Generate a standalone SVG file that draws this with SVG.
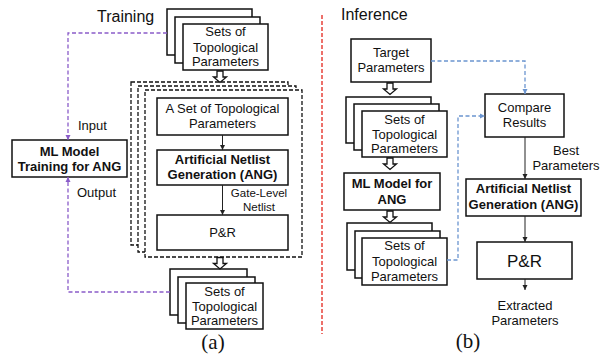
<svg xmlns="http://www.w3.org/2000/svg" width="606" height="354" viewBox="0 0 606 354">
<style>
text{font-family:"Liberation Sans",Arial,sans-serif;font-size:13px;fill:#111;text-anchor:middle}
.b{font-weight:bold}
.box{fill:#fff;stroke:#111;stroke-width:1.5}
.dbox{fill:#fff;stroke:#111;stroke-width:1.3;stroke-dasharray:4 2}
.ttl{font-size:16px;text-anchor:start}
.cap{font-family:"Liberation Serif","Times New Roman",serif;font-size:21px}
.conn{fill:none;stroke:#222;stroke-width:1}
.pur{fill:none;stroke:#8a5cc9;stroke-width:1.3;stroke-dasharray:4 2.5}
.blu{fill:none;stroke:#6b95d0;stroke-width:1.3;stroke-dasharray:4 2.5}
.red{fill:none;stroke:#e8413a;stroke-width:1.5;stroke-dasharray:4 2}
.hol{fill:#fff;stroke:#111;stroke-width:1.3}
</style>
<defs>
<marker id="ak" markerWidth="6" markerHeight="6" refX="5" refY="3" orient="auto" markerUnits="userSpaceOnUse"><path d="M0,0.5 L5,3 L0,5.5 Z" fill="#222"/></marker>
<marker id="ap" markerWidth="6" markerHeight="6" refX="5" refY="3" orient="auto" markerUnits="userSpaceOnUse"><path d="M0,0.5 L5,3 L0,5.5 Z" fill="#8a5cc9"/></marker>
<marker id="ab" markerWidth="6" markerHeight="6" refX="5" refY="3" orient="auto" markerUnits="userSpaceOnUse"><path d="M0,0.5 L5,3 L0,5.5 Z" fill="#6b95d0"/></marker>
<path id="hollow" d="M-3,0 H3 V6 H6.5 L0,11.5 L-6.5,6 H-3 Z"/>
</defs>

<text class="ttl" x="97" y="22">Training</text>
<text class="ttl" x="341" y="20">Inference</text>

<!-- (a) -->
<g id="a-sets-top">
<rect class="box" x="167" y="9" width="85" height="46"/>
<rect class="box" x="175" y="17" width="85" height="46"/>
<rect class="box" x="183" y="24" width="85" height="46"/>
<text x="225.5" y="36">Sets of</text>
<text x="225.5" y="52">Topological</text>
<text x="225.5" y="66">Parameters</text>
</g>

<g id="a-loop">
<rect class="dbox" x="131" y="82" width="157" height="163"/>
<rect class="dbox" x="138" y="86" width="158" height="166"/>
<rect class="dbox" x="145" y="90" width="157" height="167"/>
</g>

<g id="a-set">
<rect class="box" x="157" y="98" width="131" height="37"/>
<text x="222.5" y="113">A Set of Topological</text>
<text x="222.5" y="128">Parameters</text>
</g>

<g id="a-ang">
<rect class="box" x="157" y="150" width="131" height="35"/>
<text class="b" x="222.5" y="164">Artificial Netlist</text>
<text class="b" x="222.5" y="179">Generation (ANG)</text>
</g>

<g id="a-pr">
<rect class="box" x="157" y="215" width="131" height="35"/>
<text x="222.5" y="237">P&amp;R</text>
</g>

<g id="a-sets-bot">
<rect class="box" x="170" y="269" width="77" height="46"/>
<rect class="box" x="178" y="277" width="77" height="46"/>
<rect class="box" x="186" y="283" width="77" height="46"/>
<text x="224.5" y="296">Sets of</text>
<text x="224.5" y="311">Topological</text>
<text x="224.5" y="325">Parameters</text>
</g>

<g id="a-ml">
<rect class="box" x="12" y="140" width="115" height="37"/>
<text class="b" x="69.5" y="156">ML Model</text>
<text class="b" x="69.5" y="171">Training for ANG</text>
</g>

<text class="cap" x="213" y="349">(a)</text>

<!-- (b) -->
<g id="b-target">
<rect class="box" x="351" y="39" width="80" height="43"/>
<text x="391" y="57">Target</text>
<text x="391" y="72">Parameters</text>
</g>

<g id="b-sets-top">
<rect class="box" x="346" y="97" width="85" height="46"/>
<rect class="box" x="354" y="104" width="85" height="46"/>
<rect class="box" x="362" y="111" width="85" height="46"/>
<text x="404.5" y="124">Sets of</text>
<text x="404.5" y="139">Topological</text>
<text x="404.5" y="153">Parameters</text>
</g>

<g id="b-ml">
<rect class="box" x="344" y="173" width="96" height="37"/>
<text class="b" x="392" y="188">ML Model for</text>
<text class="b" x="392" y="204">ANG</text>
</g>

<g id="b-sets-bot">
<rect class="box" x="347" y="223" width="85" height="47"/>
<rect class="box" x="355" y="231" width="85" height="47"/>
<rect class="box" x="362" y="238" width="85" height="47"/>
<text x="404.5" y="250">Sets of</text>
<text x="404.5" y="266">Topological</text>
<text x="404.5" y="281">Parameters</text>
</g>

<g id="b-compare">
<rect class="box" x="485" y="94" width="79" height="43"/>
<text x="524.5" y="112">Compare</text>
<text x="524.5" y="127">Results</text>
</g>

<g id="b-ang">
<rect class="box" x="466" y="179" width="115" height="37"/>
<text class="b" x="523.5" y="193">Artificial Netlist</text>
<text class="b" x="523.5" y="209">Generation (ANG)</text>
</g>

<g id="b-pr">
<rect class="box" x="477" y="242" width="95" height="37"/>
<text x="524.5" y="267" style="font-size:17px">P&amp;R</text>
</g>

<text class="cap" x="468" y="348">(b)</text>

<g id="connectors">
<line class="red" x1="322" y1="15" x2="322" y2="334"/>
<!-- (a) -->
<use href="#hollow" class="hol" x="220" y="71"/>
<use href="#hollow" class="hol" x="220" y="257.5"/>
<line class="conn" x1="222.5" y1="135" x2="222.5" y2="150" marker-end="url(#ak)"/>
<line class="conn" x1="222.5" y1="185" x2="222.5" y2="215" marker-end="url(#ak)"/>
<path class="pur" d="M167,33 H68 V140" marker-end="url(#ap)"/>
<path class="pur" d="M170,292 H68 V177" marker-end="url(#ap)"/>
<text x="78" y="130" style="text-anchor:start">Input</text>
<text x="77" y="197" style="text-anchor:start">Output</text>
<text x="259" y="197" style="font-size:11.5px">Gate-Level</text>
<text x="259" y="211" style="font-size:11.5px">Netlist</text>
<!-- (b) -->
<use href="#hollow" class="hol" x="390" y="83"/>
<use href="#hollow" class="hol" x="390" y="158"/>
<use href="#hollow" class="hol" x="390" y="211"/>
<path class="blu" d="M431,61 H525 V94" marker-end="url(#ab)"/>
<path class="blu" d="M447,260 H458 V116 H485" marker-end="url(#ab)"/>
<line class="conn" x1="525" y1="137" x2="525" y2="179" marker-end="url(#ak)"/>
<line class="conn" x1="525" y1="216" x2="525" y2="242" marker-end="url(#ak)"/>
<line class="conn" x1="525" y1="279" x2="525" y2="290" marker-end="url(#ak)"/>
<text x="566" y="155">Best</text>
<text x="566" y="170">Parameters</text>
<text x="525" y="310">Extracted</text>
<text x="525" y="325">Parameters</text>
</g>
</svg>
